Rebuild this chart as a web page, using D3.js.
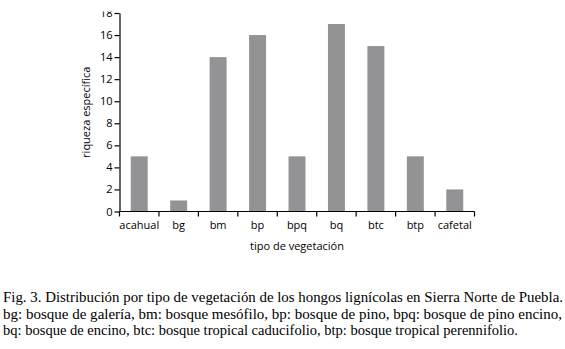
<!DOCTYPE html>
<html><head><meta charset="utf-8">
<script src="https://cdn.jsdelivr.net/npm/d3@7/dist/d3.min.js"></script>
<style>
html,body{margin:0;padding:0;background:#fff;}
svg{display:block;}
</style></head>
<body>
<script>
const categories = ["acahual","bg","bm","bp","bpq","bq","btc","btp","cafetal"];
const values = [5,1,14,16,5,17,15,5,2];
const yTicks = [0,2,4,6,8,10,12,14,16,18];
const yLabel = "riqueza específica";
const xLabel = "tipo de vegetación";
const caption = [
  "Fig. 3. Distribución por tipo de vegetación de los hongos lignícolas en Sierra Norte de Puebla.",
  "bg: bosque de galería, bm: bosque mesófilo, bp: bosque de pino, bpq: bosque de pino encino,",
  "bq: bosque de encino, btc: bosque tropical caducifolio, btp: bosque tropical perennifolio."
];
const captionWidths = [560, 559, 515];

(function(){
const W = 565, H = 349;
const svg = d3.select("body").append("svg").attr("width", W).attr("height", H);
const mLeft = 119.5, mRight = 474.5, mTop = 13, mBottom = 211.5;
const font = "'Open Sans', sans-serif";

const x = d3.scaleBand().domain(categories).range([mLeft, mRight]).paddingInner(0.57).paddingOuter(0.285);
const y = d3.scaleLinear().domain([0, 18]).range([mBottom, mTop]);

svg.append("g").selectAll("rect").data(values).join("rect")
  .attr("x", (d,i) => x(categories[i]))
  .attr("width", x.bandwidth())
  .attr("y", d => y(d))
  .attr("height", d => y(0) - y(d))
  .attr("fill", "#939396");

const ya = svg.append("g").attr("transform", `translate(${mLeft},0)`)
  .call(d3.axisLeft(y).tickValues(yTicks).tickSize(5).tickPadding(2).tickSizeOuter(0));
ya.select(".domain").attr("stroke", "#000").attr("stroke-width", 1.2);
ya.selectAll(".tick line").attr("stroke", "#000").attr("stroke-width", 1.2);
ya.selectAll(".tick text").attr("font-family", font).attr("font-size", 11).attr("fill", "#000");

const xa = svg.append("g").attr("transform", `translate(0,${mBottom})`);
xa.append("line").attr("x1", mLeft).attr("x2", mRight).attr("stroke", "#000").attr("stroke-width", 1.2);
const step = (mRight - mLeft) / categories.length;
const bounds = d3.range(categories.length + 1).map(i => mLeft + i * step);
xa.selectAll("line.tk").data(bounds).join("line").attr("class","tk")
  .attr("x1", d => d).attr("x2", d => d).attr("y1", 0).attr("y2", 5)
  .attr("stroke", "#000").attr("stroke-width", 1.2);
xa.selectAll("text").data(categories).join("text")
  .attr("x", d => x(d) + x.bandwidth()/2).attr("y", 17)
  .attr("text-anchor", "middle").attr("font-family", font).attr("font-size", 11)
  .text(d => d);

svg.append("rect").attr("x", 0).attr("y", 0).attr("width", W).attr("height", 11.5).attr("fill", "#fff");

svg.append("text").attr("transform", `translate(90,${(mTop+mBottom)/2}) rotate(-90)`)
  .attr("text-anchor", "middle").attr("font-family", font).attr("font-size", 11).text(yLabel);
svg.append("text").attr("x", (mLeft+mRight)/2).attr("y", 250)
  .attr("text-anchor", "middle").attr("font-family", font).attr("font-size", 11).text(xLabel);

svg.append("g").selectAll("text").data(caption).join("text")
  .attr("x", 3).attr("y", (d,i) => 302 + i*16.5)
  .attr("font-family", "'Liberation Serif', 'Times New Roman', serif").attr("font-size", 14.5)
  .attr("textLength", (d,i) => captionWidths[i]).attr("lengthAdjust", "spacingAndGlyphs")
  .text(d => d);
})();
</script>
</body></html>
